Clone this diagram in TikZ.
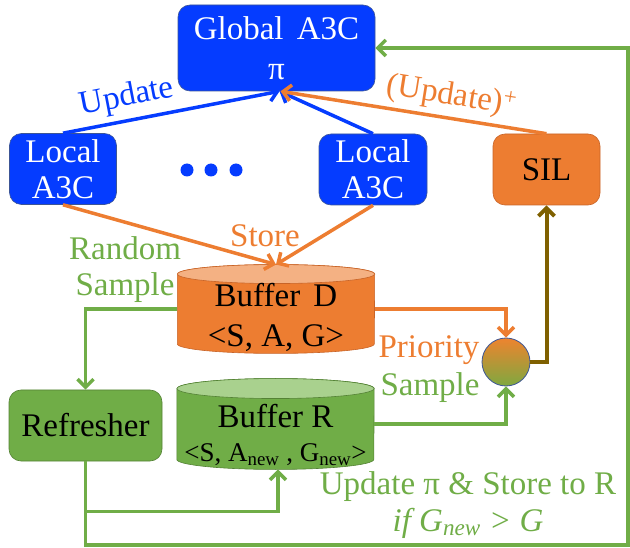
\documentclass[tikz,border=0pt]{standalone}
\usepackage{fontspec}
\setmainfont{Liberation Serif}
\usetikzlibrary{arrows.meta, positioning}

\definecolor{a3cblue}{RGB}{5,60,255}
\definecolor{blueedge}{RGB}{60,85,150}
\definecolor{silorange}{RGB}{237,125,49}
\definecolor{orangeedge}{RGB}{200,100,40}
\definecolor{lightorange}{RGB}{244,177,131}
\definecolor{refgreen}{RGB}{112,173,71}
\definecolor{greenedge}{RGB}{84,130,53}
\definecolor{lightgreen}{RGB}{169,209,142}
\definecolor{brownline}{RGB}{127,96,0}

\newcommand{\bigfont}{\fontsize{33}{36}\selectfont}
\newcommand{\tuplefont}{\fontsize{27}{30}\selectfont}

\tikzstyle{agent} = [rectangle, rounded corners=12pt, fill=a3cblue, draw=blueedge, line width=0.6pt, text=white, align=center, inner sep=0pt, font=\bigfont]
\tikzstyle{module} = [rectangle, rounded corners=12pt, line width=0.6pt, text=black, align=center, inner sep=0pt, font=\bigfont]
\tikzstyle{drum} = [rectangle, inner sep=0pt, minimum width=197pt]
\tikzstyle{note} = [align=center, inner sep=0pt, font=\bigfont]
\tikzstyle{barrow} = [line width=3.5pt, a3cblue, -{Straight Barb[length=8pt,width=16pt]}]
\tikzstyle{oarrow} = [line width=3.5pt, silorange, -{Straight Barb[length=8pt,width=16pt]}]
\tikzstyle{garrow} = [line width=3.5pt, refgreen, -{Straight Barb[length=8pt,width=16pt]}]
\tikzstyle{narrow} = [line width=4pt, brownline, -{Straight Barb[length=8pt,width=16pt]}]

\begin{document}
\begin{tikzpicture}[x=1pt, y=-1pt]
	\useasboundingbox (0,0) rectangle (630,548);
	% Nodes
	\node (glob) [agent, minimum width=197pt, minimum height=86pt] at (276.5,48) {Global\hspace{0.4em}A3C\\[4pt]π};
	\node (lloc) [agent, minimum width=107pt, minimum height=71pt] at (63,169) {Local\\A3C};
	\node (rloc) [agent, minimum width=108pt, minimum height=71pt] at (373,169.5) {Local\\A3C};
	\node (sil) [module, fill=silorange, draw=orangeedge, minimum width=107pt, minimum height=71pt] at (546.5,169.5) {SIL};
	\node (refr) [module, fill=refgreen, draw=greenedge, minimum width=153pt, minimum height=71pt] at (85.5,425.5) {Refresher};
	\node (bufd) [drum, minimum height=88.5pt] at (276,309) {};
	\node (bufr) [drum, minimum height=90.5pt] at (275.5,424) {};
	\node (psamp) [circle, minimum size=48pt, inner sep=0pt, top color=silorange!95!yellow, bottom color=refgreen!90!orange, draw=blueedge, line width=0.8pt] at (506,362) {};
	% Buffers
	\filldraw [fill=silorange, draw=orangeedge, line width=0.6pt] ([yshift=-9.5pt]bufd.north west) -- ([yshift=9.5pt]bufd.south west) arc [start angle=180, end angle=360, x radius=98.5pt, y radius=9.5pt] -- ([yshift=-9.5pt]bufd.north east) arc [start angle=0, end angle=180, x radius=98.5pt, y radius=9.5pt] -- cycle;
	\filldraw [fill=lightorange, draw=orangeedge, line width=0.6pt] ([yshift=-9.5pt]bufd.north) ellipse [x radius=98.5pt, y radius=9.5pt];
	\filldraw [fill=refgreen, draw=greenedge, line width=0.6pt] ([yshift=-10pt]bufr.north west) -- ([yshift=10pt]bufr.south west) arc [start angle=180, end angle=360, x radius=98.5pt, y radius=10pt] -- ([yshift=-10pt]bufr.north east) arc [start angle=0, end angle=180, x radius=98.5pt, y radius=10pt] -- cycle;
	\filldraw [fill=lightgreen, draw=greenedge, line width=0.6pt] ([yshift=-10pt]bufr.north) ellipse [x radius=98.5pt, y radius=10pt];
	\node (bufdtext) [note] at (276,317) {Buffer\hspace{0.4em}D\\[4pt]<S, A, G>};
	\node (bufrtext) [note] at (275.5,435) {Buffer R\\[-2pt]{\tuplefont <S, A\textsubscript{new} , G\textsubscript{new}>}};
	% Dots
	\fill [a3cblue] (187,170) circle (6.5pt);
	\fill [a3cblue] (211,170) circle (6.5pt);
	\fill [a3cblue] (236,170) circle (6.5pt);
	% Labels
	\node (store) [note, text=silorange] at (265,236) {Store};
	\node (rsamp) [note, text=refgreen] at (125,270) {Random\\Sample};
	\node (prio) [note, text=silorange] at (429,350) {Priority};
	\node (psampl) [note, text=refgreen] at (430,388) {Sample};
	\node (cond) [note, text=refgreen] at (468,505) {Update π \& Store to R\\[1pt]\textit{if G\textsubscript{new} > G}};
	\coordinate (loopcorner) at (628,545);
	% Arrows
	\draw [barrow] (lloc.north) -- node [pos=0.315, sloped, above=6pt, note, text=a3cblue] {Update} ([xshift=3pt]glob.south);
	\draw [barrow] (rloc.north) -- ([xshift=3pt]glob.south);
	\draw [oarrow] (sil.north) -- node [pos=0.37, sloped, above=5pt, note, text=silorange] {(Update)\textsuperscript{+}} ([xshift=4pt]glob.south);
	\draw [oarrow] (lloc.south) -- (bufd.north);
	\draw [oarrow] (rloc.south) -- (bufd.north);
	\draw [garrow] (bufd.west) -| (refr.north);
	\draw [oarrow] (bufd.east) -| (psamp.north);
	\draw [garrow] (bufr.east) -| (psamp.south);
	\draw [narrow] (psamp.east) -| (sil.south);
	\draw [garrow] (refr.south) -- ++(0,50) -| ([xshift=2.5pt]bufr.south);
	\draw [garrow] (refr.south) |- (loopcorner) |- (glob.east);
\end{tikzpicture}
\end{document}
